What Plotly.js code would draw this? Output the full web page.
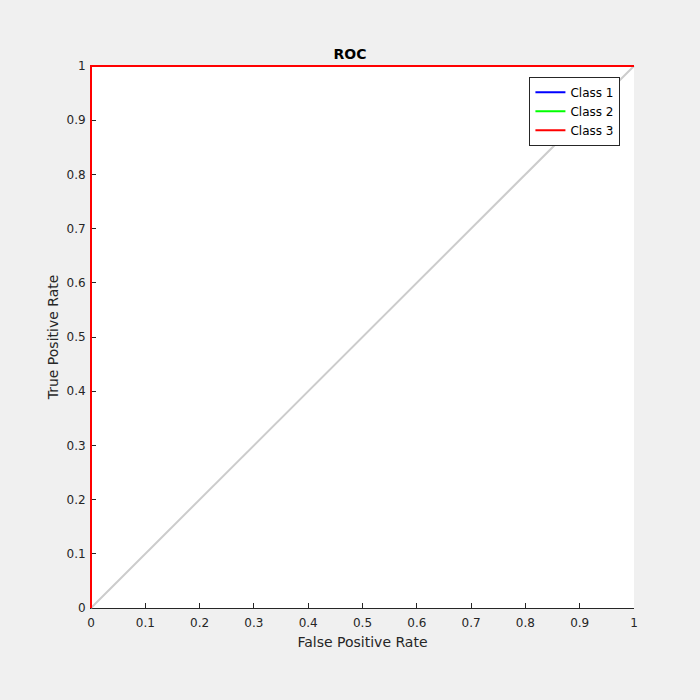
<!DOCTYPE html>
<html>
<head>
<meta charset="utf-8">
<script src="https://cdn.plot.ly/plotly-3.0.1.min.js"></script>
<style>html,body{margin:0;padding:0;background:#f0f0f0;}</style>
</head>
<body>
<div id="chart" style="width:700px;height:700px;"></div>
<script>
const classNames = ["Class 1", "Class 2", "Class 3"];
const classColors = ["#0000ff", "#00ff00", "#ff0000"];
const fpr1 = [0, 0, 1];
const tpr1 = [0, 1, 1];
const fpr2 = [0, 0, 1];
const tpr2 = [0, 1, 1];
const fpr3 = [0, 0, 1];
const tpr3 = [0, 1, 1];
const diagX = [0, 1];
const diagY = [0, 1];

const fprs = [fpr1, fpr2, fpr3];
const tprs = [tpr1, tpr2, tpr3];

const traces = [{
  x: diagX, y: diagY, mode: 'lines', showlegend: false, hoverinfo: 'skip',
  line: {color: '#cccccc', width: 2}, cliponaxis: false
}];
for (let i = 0; i < classNames.length; i++) {
  traces.push({
    x: fprs[i], y: tprs[i], mode: 'lines', name: classNames[i],
    line: {color: classColors[i], width: 2}, cliponaxis: false
  });
}

const fontFam = 'DejaVu Sans, sans-serif';
const layout = {
  width: 700, height: 700,
  paper_bgcolor: '#f0f0f0', plot_bgcolor: '#ffffff',
  margin: {l: 91, r: 66, t: 66, b: 92},
  font: {family: fontFam, size: 12, color: '#262626'},
  title: {text: '<b>ROC</b>', font: {family: fontFam, size: 14, color: '#000000'},
          x: 0.5, xanchor: 'center', y: 1 - 54/700, yanchor: 'middle'},
  showlegend: true,
  legend: {x: 0.975, xanchor: 'right', y: 0.98, yanchor: 'top',
           bgcolor: '#ffffff', bordercolor: '#262626', borderwidth: 1,
           font: {family: fontFam, size: 12, color: '#000000'},
           tracegroupgap: 0},
  xaxis: {range: [0, 1], dtick: 0.1, tick0: 0, ticks: 'inside', ticklen: 5,
          tickcolor: '#262626', showline: true, linecolor: '#262626', linewidth: 1,
          showgrid: false, zeroline: false, fixedrange: true, layer: 'below traces',
          ticklabelstandoff: 4,
          tickfont: {family: fontFam, size: 12, color: '#262626'},
          title: {text: 'False Positive Rate', font: {family: fontFam, size: 14, color: '#262626'}, standoff: 7}},
  yaxis: {range: [0, 1], dtick: 0.1, tick0: 0, ticks: 'inside', ticklen: 5,
          tickcolor: '#262626', showline: true, linecolor: '#262626', linewidth: 1,
          showgrid: false, zeroline: false, fixedrange: true, layer: 'below traces',
          ticklabelstandoff: 2,
          tickfont: {family: fontFam, size: 12, color: '#262626'},
          title: {text: 'True Positive Rate', font: {family: fontFam, size: 14, color: '#262626'}, standoff: 4}}
};
Plotly.newPlot('chart', traces, layout, {displayModeBar: false, staticPlot: true}).then(function (gd) {
  // let the curve strokes lying on the axis edges show in full, as in the reference
  gd.querySelectorAll('.scatterlayer .js-line').forEach(function (el) {
    let p = el;
    while (p && p !== gd) {
      if (p.getAttribute && p.getAttribute('clip-path')) p.removeAttribute('clip-path');
      p = p.parentNode;
    }
  });
});
</script>
</body>
</html>
